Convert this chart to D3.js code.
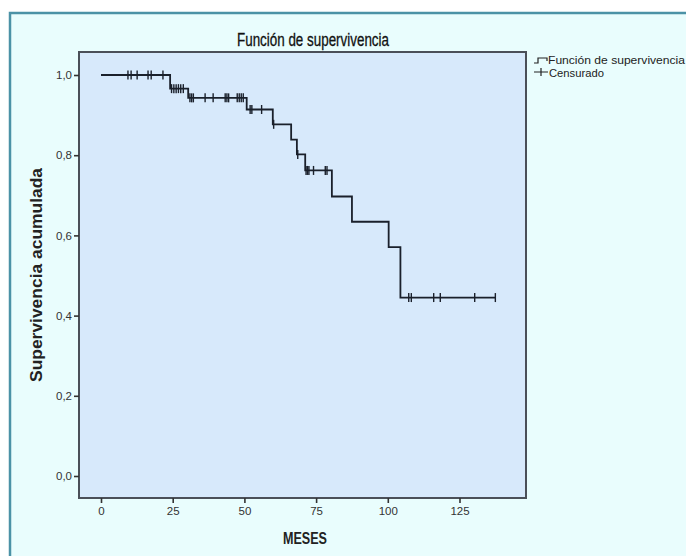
<!DOCTYPE html>
<meta charset="utf-8">
<style>
body { margin: 0; background: #fff; overflow: hidden; }
.axis text { font: 11.5px "Liberation Sans Narrow", "Liberation Sans", Arial, sans-serif; fill: #333; }
.axis path { display: none; }
.axis line { stroke: #333; stroke-width: 1.6; }
.title { font: 17.5px "Liberation Sans", Arial, sans-serif; fill: #111; stroke: #111; stroke-width: 0.3; }
.label { font: bold 15px "Liberation Sans", Arial, sans-serif; fill: #222; }
.legend text { font: 11px "Liberation Sans", Arial, sans-serif; fill: #222; }
</style>
<body>
<script src="https://d3js.org/d3.v7.min.js"></script>
<script>

// step times (months) and survival level after each drop
var stepTimes = [0, 24.1, 30.4, 50.8, 59.9, 66.3, 68.3, 71.2, 80.5, 87.5, 100.3, 104.4];
var stepSurv  = [1.0, 0.966, 0.943, 0.914, 0.877, 0.839, 0.802, 0.762, 0.697, 0.634, 0.571, 0.445];
var lastTime = 137.5;

// censored observations (months)
var censorTimes = [9.4, 10.5, 12.6, 16.4, 17.5, 21.6,
    24.6, 25.4, 26.2, 27.0, 27.8, 28.7,
    31.0, 31.6, 32.2, 36.3, 39.1, 43.3, 43.9, 44.5, 47.5, 48.2, 48.9, 49.6,
    52.0, 52.6, 56.0, 60.2, 68.6, 71.5, 72.0, 72.5, 74.1, 78.2, 78.8,
    107.3, 108.2, 116.0, 118.3, 130.3, 137.5];

var xTicks = [0, 25, 50, 75, 100, 125];
var yTicks = [0, 0.2, 0.4, 0.6, 0.8, 1.0];

var W = 686, H = 556;
var plot = {left: 79, top: 52, right: 526, bottom: 498};

var x = d3.scaleLinear().domain([0, 125]).range([101, 459.5]);
var y = d3.scaleLinear().domain([0, 1]).range([476, 75]);

var svg = d3.select("body").append("svg")
    .attr("width", W)
    .attr("height", H)
    .style("display", "block");

// outer frame
svg.append("rect")
    .attr("x", 0).attr("y", 0).attr("width", W).attr("height", H)
    .attr("fill", "#ffffff");
svg.append("rect")
    .attr("x", 10).attr("y", 13).attr("width", W + 20).attr("height", H + 20)
    .attr("fill", "#e9fdfd")
    .attr("stroke", "#4b92a6")
    .attr("stroke-width", 2.5);

// plot area
svg.append("rect")
    .attr("x", plot.left).attr("y", plot.top)
    .attr("width", plot.right - plot.left).attr("height", plot.bottom - plot.top)
    .attr("fill", "#d7e9fb")
    .attr("stroke", "#4a4f58")
    .attr("stroke-width", 2);

svg.append("g")
    .attr("class", "axis")
    .attr("transform", "translate(0," + plot.bottom + ")")
    .call(d3.axisBottom(x).tickValues(xTicks).tickSize(5).tickPadding(4));

svg.append("g")
    .attr("class", "axis")
    .attr("transform", "translate(" + plot.left + ",0)")
    .call(d3.axisLeft(y).tickValues(yTicks).tickSize(5).tickPadding(2)
        .tickFormat(function(d) { return d3.format(".1f")(d).replace(".", ","); }));

// survival step line
var pts = stepTimes.map(function(t, i) { return [t, stepSurv[i]]; });
pts.push([lastTime, stepSurv[stepSurv.length - 1]]);

var line = d3.line()
    .x(function(d) { return x(d[0]); })
    .y(function(d) { return y(d[1]); })
    .curve(d3.curveStepAfter);

svg.append("path")
    .datum(pts)
    .attr("d", line)
    .attr("fill", "none")
    .attr("stroke", "#1a202b")
    .attr("stroke-width", 1.8);

function survAt(t) {
    var s = 1;
    for (var i = 0; i < stepTimes.length; i++) if (stepTimes[i] <= t) s = stepSurv[i];
    return s;
}

svg.selectAll(".cens")
    .data(censorTimes)
    .enter().append("line")
    .attr("class", "cens")
    .attr("x1", function(d) { return x(d); })
    .attr("x2", function(d) { return x(d); })
    .attr("y1", function(d) { return y(survAt(d)) - 4.5; })
    .attr("y2", function(d) { return y(survAt(d)) + 4.5; })
    .attr("stroke", "#1a202b")
    .attr("stroke-width", 1.4);

// title and axis labels
svg.append("text")
    .attr("class", "title")
    .attr("x", 313).attr("y", 46)
    .attr("text-anchor", "middle")
    .attr("textLength", 152)
    .attr("lengthAdjust", "spacingAndGlyphs")
    .text("Función de supervivencia");

svg.append("text")
    .attr("class", "label")
    .attr("x", 305).attr("y", 544)
    .attr("text-anchor", "middle")
    .attr("textLength", 44)
    .attr("lengthAdjust", "spacingAndGlyphs")
    .style("font-size", "16px")
    .text("MESES");

svg.append("text")
    .attr("class", "label")
    .attr("transform", "translate(42,275) rotate(-90)")
    .attr("text-anchor", "middle")
    .attr("textLength", 214)
    .attr("lengthAdjust", "spacingAndGlyphs")
    .style("font-size", "16px")
    .text("Supervivencia acumulada");

// legend
var lg = svg.append("g").attr("class", "legend");
lg.append("path")
    .attr("d", "M534,63 H538 V58 H547 V61")
    .attr("fill", "none").attr("stroke", "#222").attr("stroke-width", 1.2);
lg.append("text").attr("x", 548).attr("y", 64)
    .attr("textLength", 137).attr("lengthAdjust", "spacingAndGlyphs")
    .text("Función de supervivencia");
lg.append("path")
    .attr("d", "M534,72 H548 M541,68 V76")
    .attr("fill", "none").attr("stroke", "#222").attr("stroke-width", 1.2);
lg.append("text").attr("x", 549).attr("y", 77)
    .attr("textLength", 55).attr("lengthAdjust", "spacingAndGlyphs")
    .text("Censurado");

</script>
</body>
